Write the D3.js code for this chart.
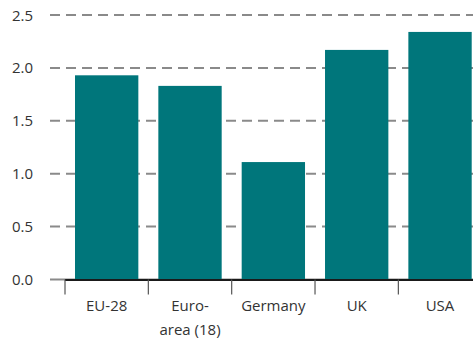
<!DOCTYPE html>
<html>
<head>
<meta charset="utf-8">
<script src="https://d3js.org/d3.v7.min.js"></script>
<style>
  body { margin: 0; background: #fff; }
  text { font-family: "Open Sans", "Liberation Sans", Arial, sans-serif; font-size: 15px; fill: #333; }
</style>
</head>
<body>
<svg id="chart" width="473" height="343"></svg>
<script>
// data
var categories = ["EU-28", "Euro-\narea (18)", "Germany", "UK", "USA"];
var values = [1.93, 1.83, 1.11, 2.17, 2.34];
var yTicks = [0.0, 0.5, 1.0, 1.5, 2.0, 2.5];

var svg = d3.select("#chart");
var plotLeft = 65, plotRight = 481.7, plotTop = 15, plotBottom = 279.5;

var x = d3.scaleBand().domain(categories).range([plotLeft, plotRight]).paddingInner(0.24).paddingOuter(0.12);
var y = d3.scaleLinear().domain([0, 2.5]).range([plotBottom, plotTop]);

// dashed gridlines
svg.append("g")
  .selectAll("line")
  .data(yTicks)
  .enter()
  .append("line")
    .attr("x1", 50)
    .attr("x2", 473)
    .attr("y1", function(d) { return y(d); })
    .attr("y2", function(d) { return y(d); })
    .attr("stroke", "#8a8a8a")
    .attr("stroke-width", 2)
    .attr("stroke-dasharray", function(d) { return d == 0 ? null : "10,6"; });

// y labels
svg.append("g")
  .selectAll("text")
  .data(yTicks)
  .enter()
  .append("text")
    .attr("x", 33)
    .attr("y", function(d) { return y(d) + 5.5; })
    .attr("text-anchor", "end")
    .text(function(d) { return d3.format(".1f")(d); });

// bars
svg.append("g")
  .selectAll("rect")
  .data(values)
  .enter()
  .append("rect")
    .attr("x", function(d, i) { return x(categories[i]); })
    .attr("width", x.bandwidth())
    .attr("y", function(d) { return y(d); })
    .attr("height", function(d) { return y(0) - y(d); })
    .attr("fill", "#00767b");

// x axis line + category boundary ticks
svg.append("line")
  .attr("x1", plotLeft).attr("x2", 473)
  .attr("y1", plotBottom + 0.5).attr("y2", plotBottom + 0.5)
  .attr("stroke", "#1a1a1a").attr("stroke-width", 2);

var step = x.step();
svg.append("g")
  .selectAll("line")
  .data(d3.range(categories.length + 1))
  .enter()
  .append("line")
    .attr("x1", function(i) { return plotLeft + i * step; })
    .attr("x2", function(i) { return plotLeft + i * step; })
    .attr("y1", plotBottom)
    .attr("y2", plotBottom + 15)
    .attr("stroke", "#555")
    .attr("stroke-width", 1.2);

// x labels
var labels = svg.append("g")
  .selectAll("text")
  .data(categories)
  .enter()
  .append("text")
    .attr("text-anchor", "middle")
    .attr("x", function(d) { return x(d) + x.bandwidth() / 2; })
    .attr("y", 311);

labels.selectAll("tspan")
  .data(function(d) { return d.split("\n"); })
  .enter()
  .append("tspan")
    .attr("x", function() { return d3.select(this.parentNode).attr("x"); })
    .attr("dy", function(d, i) { return i == 0 ? 0 : 24; })
    .text(function(d) { return d; });
</script>
</body>
</html>
